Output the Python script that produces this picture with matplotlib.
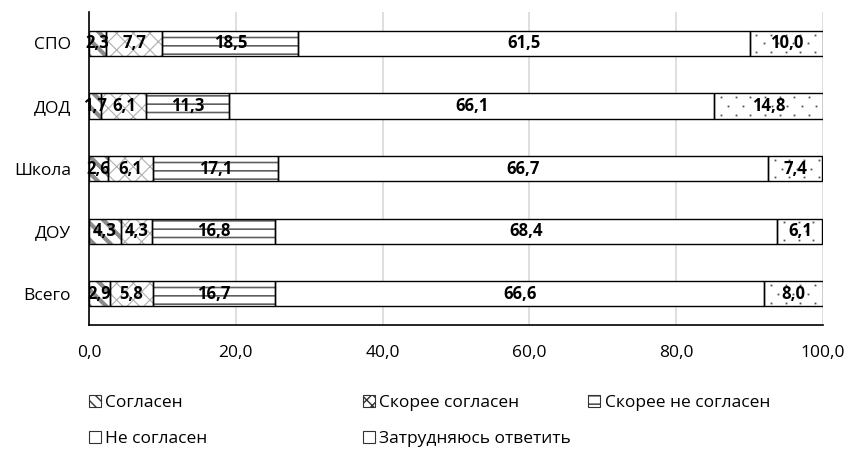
import matplotlib
matplotlib.use("Agg")
import matplotlib.pyplot as plt
from matplotlib.patches import Patch
import numpy as np

plt.rcParams['font.family'] = ['Open Sans', 'DejaVu Sans']

categories = ["Всего", "ДОУ", "Школа", "ДОД", "СПО"]
series_names = ["Согласен", "Скорее согласен", "Скорее не согласен",
                "Не согласен", "Затрудняюсь ответить"]
soglasen = [2.9, 4.3, 2.6, 1.7, 2.3]
skoree_soglasen = [5.8, 4.3, 6.1, 6.1, 7.7]
skoree_ne_soglasen = [16.7, 16.8, 17.1, 11.3, 18.5]
ne_soglasen = [66.6, 68.4, 66.7, 66.1, 61.5]
zatrudnyayus = [8.0, 6.1, 7.4, 14.8, 10.0]
series = [soglasen, skoree_soglasen, skoree_ne_soglasen, ne_soglasen, zatrudnyayus]
x_ticks = [0, 20, 40, 60, 80, 100]

# pattern per series: hatch, hatch colour, hatch line width
hatches = ["\\\\", "xx", "--", "", ""]
hatch_colors = ["#8c8c8c", "#b0b0b0", "#606060", "white", "white"]
hatch_lw = [3.0, 0.8, 1.2, 1.0, 1.0]
BAR_H = 0.4


def fmt(v):
    return f"{v:.1f}".replace(".", ",")


fig = plt.figure(figsize=(8.51, 4.49), dpi=100)
ax = fig.add_axes([0.1046, 0.276, 0.8625, 0.697])

ypos = list(range(len(categories)))
left = [0.0] * len(categories)
for k, (vals, h, hc, hl) in enumerate(zip(series, hatches, hatch_colors, hatch_lw)):
    with plt.rc_context({'hatch.linewidth': hl}):
        ax.barh(ypos, vals, left=left, height=BAR_H, color="white", hatch=h,
                edgecolor=hc, linewidth=0, zorder=2)
    if k == 4:
        # sparse dots for "Затрудняюсь ответить"
        for y, v, l in zip(ypos, vals, left):
            for r, dy in enumerate([-0.14, 0.0, 0.14]):
                off = 0.9 if r % 2 == 0 else 1.9
                xs = np.arange(l + off, l + v - 0.3, 2.0)
                ax.plot(xs, [y + dy] * len(xs), ls="none", marker="s",
                        ms=1.3, color="#505050", mew=0, zorder=2.5)
    ax.barh(ypos, vals, left=left, height=BAR_H, fill=False,
            edgecolor="black", linewidth=1.0, zorder=3)
    for y, v, l in zip(ypos, vals, left):
        ax.text(l + v / 2, y, fmt(v), ha="center", va="center",
                fontsize=12, fontweight="bold", zorder=4)
    left = [a + b for a, b in zip(left, vals)]

ax.set_xlim(0, 100)
ax.set_ylim(-0.5, 4.5)
ax.set_xticks(x_ticks)
ax.set_xticklabels([fmt(t) for t in x_ticks], fontsize=12.5)
ax.set_yticks(ypos)
ax.set_yticklabels(categories, fontsize=12.5)
ax.tick_params(length=0, pad=13)
ax.tick_params(axis="x", pad=14)
ax.grid(axis="x", color="#d9d9d9", linewidth=1.2, zorder=0)
ax.set_axisbelow(True)
for s in ["top", "right"]:
    ax.spines[s].set_visible(False)
ax.spines["left"].set_linewidth(1.2)
ax.spines["bottom"].set_linewidth(1.2)

leg_hatch = ["\\\\\\", "xxx", "--", "", ""]
handles = [Patch(facecolor="white", edgecolor="#333333", hatch=h,
                 label=n, linewidth=0.8)
           for n, h in zip(series_names, leg_hatch)]

columns = [([0, 3], 0.104), ([1, 4], 0.426), ([2], 0.691)]
for idx, xpos in columns:
    fig.legend([handles[i] for i in idx], [series_names[i] for i in idx],
               loc="upper left", bbox_to_anchor=(xpos, 0.12),
               frameon=False, fontsize=12.5, handlelength=0.7,
               handleheight=0.7, handletextpad=0.25, labelspacing=1.15,
               borderaxespad=0, borderpad=0)

fig.savefig("out.png", dpi=100)
